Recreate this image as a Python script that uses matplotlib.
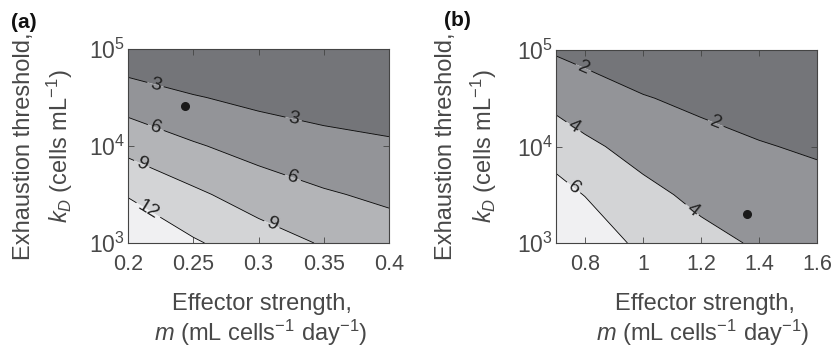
import numpy as np
import matplotlib
matplotlib.use('Agg')
import matplotlib.pyplot as plt
import matplotlib.transforms as mtransforms
from matplotlib.scale import LogTransform
from matplotlib.ticker import FormatStrFormatter, NullLocator, FixedLocator

plt.rcParams['font.family'] = ['Liberation Sans', 'DejaVu Sans']
plt.rcParams['mathtext.fontset'] = 'custom'
plt.rcParams['mathtext.rm'] = 'Liberation Sans'
plt.rcParams['mathtext.it'] = 'Liberation Sans:italic'

# ---- data ----
# rows: log10 of exhaustion threshold k_D, columns: effector strength m
kd_exp = [3.0, 3.5, 4.0, 4.5, 5.0]

m_a = [0.2, 0.25, 0.3, 0.35, 0.4]
z_a = [[15.45, 12.33, 10.42, 8.75, 7.46],
       [11.76, 9.55, 7.62, 6.30, 5.43],
       [8.11, 6.30, 4.89, 3.97, 3.39],
       [4.54, 3.19, 2.26, 1.66, 1.36],
       [0.84, 0.09, 0.05, 0.03, 0.02]]
levels_a = [3, 6, 9, 12]
dot_a = (0.244, 2.6e4)

m_b = [0.7, 0.8, 1.0, 1.2, 1.4, 1.6]
z_b = [[8.39, 7.50, 5.45, 4.53, 3.80, 3.38],
       [6.73, 5.94, 4.50, 3.56, 2.95, 2.58],
       [5.08, 4.37, 3.32, 2.59, 2.11, 1.78],
       [3.43, 2.90, 2.10, 1.61, 1.26, 0.98],
       [1.80, 1.45, 0.88, 0.64, 0.42, 0.18]]
levels_b = [2, 4, 6]
dot_b = (1.36, 2.0e3)

xticks_a = [0.2, 0.25, 0.3, 0.35, 0.4]
xticks_b = [0.8, 1.0, 1.2, 1.4, 1.6]
yticks = [1e3, 1e4, 1e5]

# label spots (m, log10 kD)
lab_a = [(0.221, 4.63), (0.327, 4.285), (0.221, 4.18), (0.327, 3.70),
         (0.2105, 3.814), (0.310, 3.186), (0.2156, 3.34)]
lab_b = [(0.794, 4.81), (1.248, 4.22), (0.76, 4.205), (1.168, 3.34), (0.754, 3.55)]

fills_a = ['#747579', '#939498', '#b3b4b7', '#d3d4d6', '#f0f0f2']
fills_b = ['#747579', '#939498', '#d3d4d6', '#f0f0f2']
txt = '#484848'

W, H = 833, 350
fig = plt.figure(figsize=(W / 100, H / 100), dpi=100)


def px(x0, y0, x1, y1):
    return [x0 / W, 1 - y1 / H, (x1 - x0) / W, (y1 - y0) / H]


def panel(rect, m, z, levels, fills, xlim, xticks, dot, labs):
    ax = fig.add_axes(rect)
    ax.set_yscale('log')
    ax.set_xlim(*xlim)
    ax.set_ylim(1e3, 1e5)
    # contour computed in log10 space, mapped through the log scale
    tr = mtransforms.blended_transform_factory(
        mtransforms.IdentityTransform(), LogTransform(10).inverted()) + ax.transData
    bounds = [-50] + list(levels) + [50]
    ax.contourf(m, kd_exp, z, levels=bounds, colors=fills, transform=tr,
                antialiased=True)
    cs = ax.contour(m, kd_exp, z, levels=levels, colors='k', linewidths=0.6,
                    transform=tr)
    ax.clabel(cs, fmt='%g', fontsize=14, colors='#222222', inline=True,
              inline_spacing=3,
              manual=[(x, 10 ** l) for x, l in labs])
    ax.plot([dot[0]], [dot[1]], 'o', color='#1a1a1a', ms=5.5)
    ax.xaxis.set_major_locator(FixedLocator(xticks))
    ax.xaxis.set_major_formatter(FormatStrFormatter('%g'))
    ax.yaxis.set_major_locator(FixedLocator(yticks))
    ax.yaxis.set_minor_locator(NullLocator())
    ax.tick_params(direction='in', top=True, right=True, length=4, width=0.6,
                   color='#444444', labelcolor=txt)
    ax.tick_params(axis='y', pad=2, labelsize=16.5)
    ax.tick_params(axis='x', pad=8, labelsize=15.5)
    for s in ax.spines.values():
        s.set_color('#444444')
        s.set_linewidth(0.8)
    return ax


ax_a = panel(px(128, 49, 389, 243), m_a, z_a, levels_a, fills_a, (0.2, 0.4),
             xticks_a, dot_a, lab_a)
ax_b = panel(px(556, 50, 817, 243), m_b, z_b, levels_b, fills_b, (0.7, 1.6),
             xticks_b, dot_b, lab_b)

xl1 = 'Effector strength,'
xl2 = r'$m$ (mL cells$^{-1}$ day$^{-1}$)'
yl1 = 'Exhaustion threshold,'
yl2 = r'$k_D$ (cells mL$^{-1}$)'

for (x1, x2, ya, yb, tag, tx, ty) in [(262, 261, 24, 60, '(a)', 24, 22),
                                        (705, 703, 446, 484, '(b)', 457, 20)]:
    fig.text(x1 / W, 1 - 304 / H, xl1, ha='center', va='center', fontsize=17, color=txt)
    fig.text(x2 / W, 1 - 333 / H, xl2, ha='center', va='center', fontsize=17, color=txt)
    fig.text(ya / W, 1 - 146 / H, yl1, ha='center', va='center', rotation=90,
             fontsize=17, color=txt)
    fig.text(yb / W, 1 - 146 / H, yl2, ha='center', va='center', rotation=90,
             fontsize=17, color=txt)
    fig.text(tx / W, 1 - ty / H, tag, ha='center', va='center', fontsize=15,
             fontweight='bold', color='#111111')

fig.savefig('out.png', dpi=100)
